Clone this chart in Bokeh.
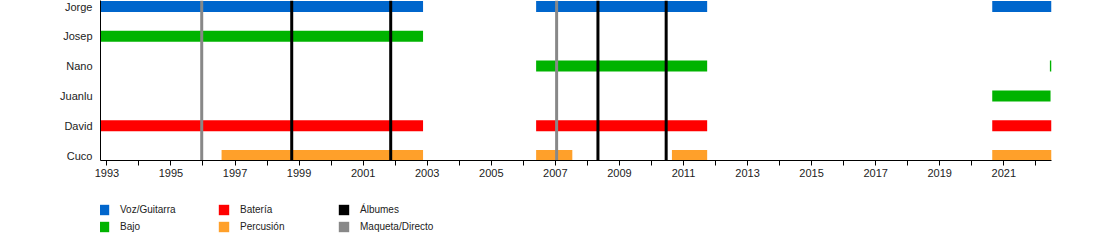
from bokeh.plotting import figure
from bokeh.models import FixedTicker, Range1d, Legend, LegendItem
from bokeh.layouts import column
from bokeh.embed import file_html
from bokeh.resources import INLINE

members = ["Jorge", "Josep", "Nano", "Juanlu", "David", "Cuco"]
roles = ["Voz/Guitarra", "Bajo", "Batería", "Percusión"]
role_colors = ["#0066CC", "#00B300", "#FF0000", "#FFA02A"]

bar_member = ["Jorge", "Jorge", "Jorge",
              "Josep",
              "Nano", "Nano",
              "Juanlu",
              "David", "David", "David",
              "Cuco", "Cuco", "Cuco", "Cuco"]
bar_role = ["Voz/Guitarra", "Voz/Guitarra", "Voz/Guitarra",
            "Bajo",
            "Bajo", "Bajo",
            "Bajo",
            "Batería", "Batería", "Batería",
            "Percusión", "Percusión", "Percusión", "Percusión"]
bar_start = [1992.8, 2006.4, 2020.64,
             1992.8,
             2006.4, 2022.44,
             2020.64,
             1992.8, 2006.4, 2020.64,
             1996.58, 2006.4, 2010.64, 2020.64]
bar_end = [2002.87, 2011.74, 2022.49,
           2002.87,
           2011.74, 2022.49,
           2022.46,
           2002.87, 2011.74, 2022.49,
           2002.87, 2007.53, 2011.74, 2022.49]

album_years = [1998.77, 2001.86, 2008.33, 2010.46]
demo_years = [1995.96, 2007.04]
marker_labels = ["Álbumes", "Maqueta/Directo"]
marker_colors = ["black", "#888888"]

year_labels = list(range(1993, 2023, 2))
minor_years = list(range(1994, 2023, 2))

x_start, x_end = 1992.8, 2022.49
n = len(members)
ypos = {m: n - 1 - i for i, m in enumerate(members)}
y_lo, y_hi = -0.167, 5.2

font = "Liberation Sans"

# ---------- main timeline ----------
p = figure(width=1100, height=185, output_backend="svg",
           toolbar_location=None,
           x_range=Range1d(x_start, x_end), y_range=Range1d(y_lo, y_hi),
           min_border_left=100, min_border_right=49, min_border_top=0,
           min_border_bottom=25)
p.outline_line_color = None
p.xgrid.visible = False
p.ygrid.visible = False

for role, color in zip(roles, role_colors):
    idx = [i for i, r in enumerate(bar_role) if r == role]
    p.hbar(y=[ypos[bar_member[i]] for i in idx],
           left=[bar_start[i] for i in idx],
           right=[bar_end[i] for i in idx],
           height=0.37, fill_color=color, line_color=None)

line_w = 3 / 32.0
p.vbar(x=album_years, top=y_hi, bottom=y_lo, width=line_w,
       fill_color=marker_colors[0], line_color=None)
p.vbar(x=demo_years, top=y_hi, bottom=y_lo, width=line_w,
       fill_color=marker_colors[1], line_color=None)

# x axis
p.xaxis.ticker = FixedTicker(ticks=year_labels, minor_ticks=minor_years)
p.xaxis.major_tick_out = 5
p.xaxis.major_tick_in = 0
p.xaxis.minor_tick_out = 5
p.xaxis.minor_tick_in = 0
p.xaxis.axis_line_color = "black"
p.xaxis.major_label_text_font = font
p.xaxis.major_label_text_font_size = "11px"
p.xaxis.major_label_text_color = "#222222"
p.xaxis.major_label_standoff = 3

# y axis
p.yaxis.ticker = FixedTicker(ticks=[ypos[m] for m in members])
p.yaxis.major_label_overrides = {ypos[m]: m for m in members}
p.yaxis.major_tick_out = 0
p.yaxis.major_tick_in = 0
p.yaxis.minor_tick_out = 0
p.yaxis.minor_tick_in = 0
p.yaxis.axis_line_color = "black"
p.yaxis.major_label_text_font = font
p.yaxis.major_label_text_font_size = "11px"
p.yaxis.major_label_text_color = "#222222"
p.yaxis.major_label_standoff = 8

# ---------- legend strip ----------
p2 = figure(width=1100, height=55, output_backend="svg", toolbar_location=None,
            x_range=Range1d(0, 1), y_range=Range1d(0, 1),
            x_axis_location=None, y_axis_location=None,
            min_border=0)
p2.outline_line_color = None
p2.xgrid.visible = False
p2.ygrid.visible = False

items = {}
# legend-only renderers: one hidden-off-range item each so the swatch is drawn
for role, color in zip(roles, role_colors):
    r = p2.hbar(y=[-10], left=[0], right=[1], height=1, fill_color=color, line_color=None)
    items[role] = LegendItem(label=role, renderers=[r])
for lab, color in zip(marker_labels, marker_colors):
    r = p2.hbar(y=[-10], left=[0], right=[1], height=1, fill_color=color, line_color=None)
    items[lab] = LegendItem(label=lab, renderers=[r])

order = ["Voz/Guitarra", "Batería", "Álbumes", "Bajo", "Percusión", "Maqueta/Directo"]
legend = Legend(items=[items[k] for k in order],
                orientation="horizontal", nrows=2,
                location=(-3, 7), border_line_color=None,
                background_fill_alpha=0,
                label_text_font=font, label_text_font_size="10px",
                label_text_color="#222222",
                glyph_width=13, glyph_height=13, label_standoff=10,
                label_width=93, label_height=13,
                spacing=4, padding=0, margin=0)
p2.add_layout(legend, "center")

open("out.html", "w").write(file_html(column(p, p2, spacing=0), INLINE))
